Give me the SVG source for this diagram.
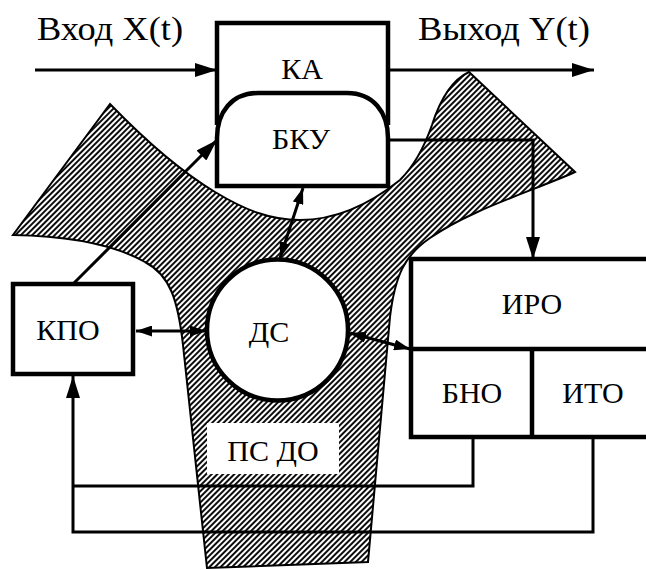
<svg xmlns="http://www.w3.org/2000/svg" width="646" height="570" viewBox="0 0 646 570">
<defs>
<pattern id="hatch" patternUnits="userSpaceOnUse" width="4" height="4" patternTransform="rotate(45)">
<rect width="4" height="4" fill="#fff"/>
<line x1="1" y1="0" x2="1" y2="4" stroke="#000" stroke-width="1.9"/>
</pattern>
<marker id="ah" markerUnits="userSpaceOnUse" viewBox="0 0 22 14" refX="22" refY="7" markerWidth="22" markerHeight="14" orient="auto-start-reverse">
<path d="M0,0 L22,7 L0,14 Z" fill="#000"/>
</marker>
<marker id="ahs" markerUnits="userSpaceOnUse" viewBox="0 0 16 11" refX="16" refY="5.5" markerWidth="16" markerHeight="11" orient="auto-start-reverse">
<path d="M0,0 L16,5.5 L0,11 Z" fill="#000"/>
</marker>
</defs>
<style>
.box{fill:#fff;stroke:#000;stroke-width:4.5}
.ln{fill:none;stroke:#000;stroke-width:3}
.t{font-family:'Liberation Serif','Times New Roman','DejaVu Serif',serif;font-size:30px;fill:#000;text-anchor:middle}
.tt{font-family:'Liberation Serif','Times New Roman','DejaVu Serif',serif;font-size:33px;fill:#000}
</style>
<rect width="646" height="570" fill="#fff"/>
<g id="region">
<path d="M110,104 C140,135 175,168 215,192 C245,210 270,220 300,220 C340,220 375,200 400,180 C415,165 425,145 432,125 C440,100 452,80 469,72 L575,172 C530,192 470,210 430,238 C405,255 395,275 390,317 L368,562 L207,568 L183,345 C178,300 170,275 145,262 C115,245 70,236 13,235 Z" fill="url(#hatch)" stroke="#000" stroke-width="2"/>
</g>
<text class="tt" x="37" y="40" textLength="146" lengthAdjust="spacingAndGlyphs">Вход X(t)</text>
<text class="tt" x="418" y="40" textLength="172" lengthAdjust="spacingAndGlyphs">Выход Y(t)</text>
<g id="connectors">
<line class="ln" x1="35" y1="70" x2="217" y2="70" marker-end="url(#ah)"/>
<line class="ln" x1="388" y1="70" x2="594" y2="70" marker-end="url(#ah)"/>
<line class="ln" x1="74" y1="283" x2="217" y2="140" marker-end="url(#ah)"/>
<polyline class="ln" points="387,140 533,140 533,259" marker-end="url(#ah)"/>
<line class="ln" x1="136" y1="331" x2="206" y2="331" marker-start="url(#ahs)" marker-end="url(#ahs)"/>
<line class="ln" x1="303" y1="188" x2="280" y2="258" marker-start="url(#ahs)" marker-end="url(#ahs)"/>
<line class="ln" x1="350" y1="333" x2="410" y2="349" marker-start="url(#ahs)" marker-end="url(#ahs)"/>
<polyline class="ln" points="473,437 473,486 73,486"/>
<polyline class="ln" points="593,437 593,532 73,532 73,376" marker-end="url(#ah)"/>
</g>
<g id="KA">
<path class="box" d="M217,125 L217,23 L388,23 L388,125"/>
<text class="t" x="302" y="79">КА</text>
</g>
<g id="BKU">
<path class="box" d="M217,186 L217,138 C217,112 232,93 258,93 L347,93 C373,93 388,112 388,138 L388,186 Z"/>
<text class="t" x="301" y="149">БКУ</text>
</g>
<g id="DS">
<circle class="box" cx="277.5" cy="330" r="70.5"/>
<text class="t" x="269" y="342">ДС</text>
</g>
<g id="KPO">
<rect class="box" x="13" y="284" width="120" height="90"/>
<text class="t" x="68" y="340">КПО</text>
</g>
<g id="IRO">
<rect class="box" x="411" y="259" width="260" height="178"/>
<line class="box" x1="411" y1="349" x2="671" y2="349"/>
<text class="t" x="532" y="314">ИРО</text>
</g>
<g id="BNO">
<line class="box" x1="532" y1="349" x2="532" y2="437"/>
<text class="t" x="472" y="403">БНО</text>
</g>
<g id="ITO">
<text class="t" x="593" y="403">ИТО</text>
</g>
<g id="PSDO">
<rect x="207" y="423" width="132" height="51" fill="#fff"/>
<text class="t" x="273" y="461">ПС ДО</text>
</g>
</svg>
